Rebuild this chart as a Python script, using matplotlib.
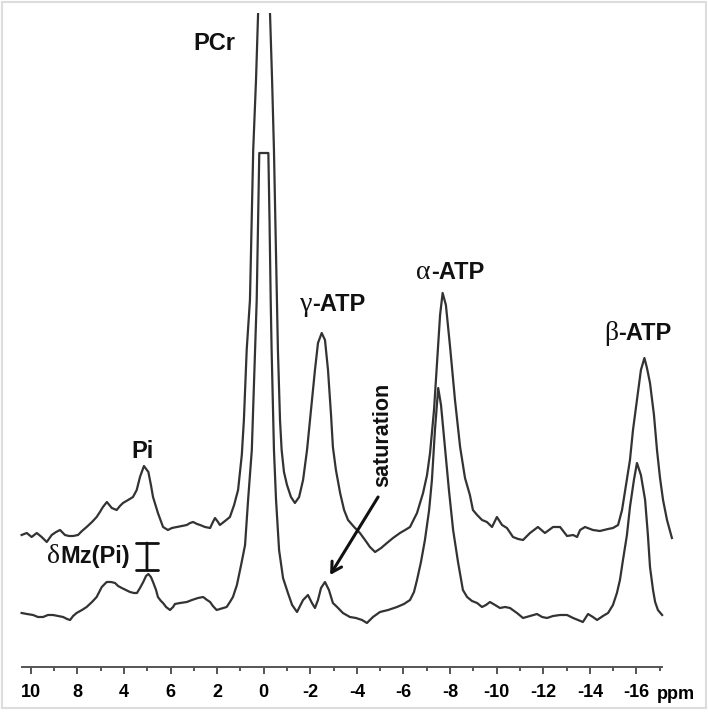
import matplotlib
matplotlib.use('Agg')
import matplotlib.pyplot as plt
from matplotlib.patches import Rectangle

plt.rcParams['font.family'] = ['Liberation Sans', 'DejaVu Sans']

# chemical shift (ppm) and signal (a.u.)
# upper trace: control spectrum (PCr peak runs off scale)
upper_ppm = [10.39, 10.17, 9.96, 9.74, 9.53, 9.31, 9.10, 8.91, 8.74, 8.53,
             8.36, 8.18, 7.97, 7.80, 7.60, 7.37, 7.17, 7.03, 6.90, 6.73,
             6.52, 6.31, 6.17, 6.04, 5.82, 5.61, 5.45, 5.31, 5.14, 4.95,
             4.84, 4.75, 4.54, 4.32, 4.11, 3.94, 3.73, 3.51, 3.30, 3.16,
             3.03, 2.86, 2.73, 2.52, 2.30, 2.18, 2.09, 1.96, 1.88, 1.66,
             1.45, 1.27, 1.10, 0.94, 0.85, 0.73, 0.59, 0.45, 0.33, 0.24,
             0.0,
             -0.27, -0.36, -0.44, -0.57, -0.61, -0.70, -0.77, -0.87, -1.00, -1.17,
             -1.34, -1.52, -1.69, -1.86, -2.03, -2.20, -2.33, -2.49, -2.63, -2.76,
             -2.89, -2.97, -3.10, -3.28, -3.45, -3.62, -3.88, -4.13, -4.35, -4.56,
             -4.78, -5.04, -5.29, -5.55, -5.85, -6.07, -6.28, -6.58, -6.84, -7.01,
             -7.14, -7.31, -7.44, -7.57, -7.68, -7.82, -8.00, -8.21, -8.43, -8.64,
             -8.85, -8.98, -9.16, -9.37, -9.58, -9.80, -10.01, -10.23, -10.44, -10.70,
             -10.92, -11.13, -11.43, -11.77, -12.07, -12.42, -12.72, -13.02, -13.28, -13.45,
             -13.58, -13.79, -14.13, -14.43, -14.78, -14.99, -15.21, -15.38, -15.55, -15.72,
             -15.85, -16.02, -16.19, -16.34, -16.45, -16.58, -16.75, -16.88, -17.01, -17.14,
             -17.31, -17.52]
upper_sig = [132, 134, 130, 134, 130, 125, 132, 135, 137, 132,
             131, 131, 132, 136, 140, 145, 150, 155, 160, 165,
             159, 157, 161, 164, 167, 170, 177, 190, 201, 195,
             182, 170, 154, 140, 137, 139, 140, 141, 142, 144,
             145, 143, 142, 140, 139, 145, 149, 145, 142, 146,
             150, 162, 177, 212, 247, 317, 367, 517, 587, 654,
             980,
             654, 587, 517, 367, 317, 247, 217, 195, 182, 170,
             164, 170, 187, 217, 257, 297, 324, 334, 327, 297,
             252, 220, 197, 174, 157, 147, 140, 134, 127, 120,
             115, 119, 124, 129, 134, 137, 140, 154, 174, 192,
             214, 257, 304, 352, 374, 362, 320, 267, 220, 189,
             172, 157, 152, 147, 145, 140, 150, 142, 139, 130,
             128, 127, 134, 140, 134, 140, 140, 131, 132, 130,
             137, 140, 137, 136, 138, 139, 142, 157, 182, 207,
             237, 267, 297, 309, 299, 284, 252, 217, 189, 167,
             147, 129]

# lower trace: spectrum with gamma-ATP saturated (PCr peak truncated)
lower_ppm = [10.39, 10.16, 9.90, 9.69, 9.47, 9.26, 9.04, 8.83, 8.61, 8.44,
             8.31, 8.18, 8.03, 7.80, 7.60, 7.37, 7.17, 6.95, 6.74, 6.55,
             6.38, 6.25, 6.09, 5.91, 5.74, 5.57, 5.44, 5.31, 5.17, 5.05,
             4.95, 4.84, 4.75, 4.62, 4.54, 4.41, 4.32, 4.19, 4.02, 3.89,
             3.81, 3.59, 3.30, 3.08, 2.82, 2.60, 2.43, 2.30, 2.18, 2.02,
             1.88, 1.59, 1.45, 1.32, 1.15, 0.97, 0.80, 0.67, 0.51, 0.37,
             0.30, 0.24, 0.19, -0.20, -0.25, -0.30, -0.34, -0.44, -0.53, -0.66,
             -0.83, -1.04, -1.22, -1.43, -1.69, -1.90, -2.07, -2.20, -2.33, -2.46,
             -2.63, -2.80, -2.97, -3.15, -3.40, -3.70, -3.96, -4.22, -4.43, -4.69,
             -4.99, -5.34, -5.72, -6.02, -6.28, -6.45, -6.58, -6.75, -6.92, -7.10,
             -7.22, -7.35, -7.49, -7.61, -7.78, -7.95, -8.13, -8.34, -8.55, -8.73,
             -8.94, -9.16, -9.37, -9.54, -9.71, -9.93, -10.14, -10.36, -10.57, -10.87,
             -11.13, -11.43, -11.73, -11.95, -12.16, -12.42, -12.72, -13.02, -13.28, -13.49,
             -13.70, -13.92, -14.13, -14.31, -14.56, -14.78, -14.99, -15.16, -15.29, -15.42,
             -15.59, -15.72, -15.89, -16.02, -16.19, -16.37, -16.49, -16.58, -16.71, -16.80,
             -16.92, -17.10]
lower_sig = [54, 53, 52, 50, 50, 52, 52, 51, 50, 48,
             47, 51, 54, 57, 60, 65, 70, 80, 85, 85,
             84, 81, 79, 77, 75, 74, 74, 79, 85, 91,
             93, 90, 85, 77, 70, 66, 64, 60, 57, 60,
             63, 64, 65, 67, 69, 70, 67, 65, 61, 57,
             58, 60, 65, 70, 82, 102, 122, 167, 217, 317,
             367, 447, 514, 514, 447, 367, 317, 217, 167, 117,
             89, 74, 62, 55, 67, 72, 64, 59, 67, 79,
             85, 77, 64, 60, 54, 50, 49, 47, 44, 50,
             55, 57, 60, 63, 67, 75, 87, 105, 127, 157,
             187, 237, 279, 262, 220, 177, 137, 105, 77, 70,
             66, 64, 60, 62, 65, 62, 59, 60, 59, 54,
             49, 51, 53, 50, 49, 51, 52, 52, 49, 47,
             45, 53, 50, 47, 51, 54, 62, 74, 87, 107,
             132, 160, 187, 204, 192, 167, 132, 100, 77, 65,
             57, 52]

tick_pos = [10, 8, 6, 4, 2, 0, -2, -4, -6, -8, -10, -12, -14, -16]
tick_labels = ['10', '8', '4', '6', '2', '0', '-2', '-4', '-6', '-8',
               '-10', '-12', '-14', '-16']
minor_pos = [9, 7, 5, 3, 1, -1, -3, -5, -7, -9, -11, -13, -15, -17]

fig = plt.figure(figsize=(7.08, 7.13), dpi=100)
ax = fig.add_axes([0.02119, 0.06452, 0.96751, 0.91725])

trace_color = '#333333'
ax.plot(upper_ppm, upper_sig, color=trace_color, lw=1.6)
ax.plot(lower_ppm, lower_sig, color=trace_color, lw=1.6)

ax.set_xlim(10.674, -18.726)
ax.set_ylim(0, 654)

for side in ['top', 'right', 'left']:
    ax.spines[side].set_visible(False)
ax.spines['bottom'].set_bounds(10.39, -17.1)
ax.spines['bottom'].set_color('#555555')
ax.spines['bottom'].set_linewidth(1.4)
ax.set_yticks([])
ax.set_xticks(tick_pos)
ax.set_xticklabels(tick_labels, fontsize=13, fontweight='bold')
ax.set_xticks(minor_pos, minor=True)
ax.tick_params(axis='x', which='major', length=5, width=1.4,
               color='#555555', pad=7)
ax.tick_params(axis='x', which='minor', length=3, width=1.4,
               color='#555555')
ax.text(-17.70, -28, 'ppm', fontsize=13, fontweight='bold',
        ha='center', va='center', clip_on=False)

lab = dict(fontsize=17, fontweight='bold', ha='center', va='center',
           color='#111111')
ax.text(2.13, 623, 'PCr', **lab)
ax.text(5.22, 215, 'Pi', **lab)

# peak names with a Greek prefix: serif Greek letter, bold sans rest
greek = dict(fontsize=20, family='Liberation Serif', ha='right',
             va='baseline', color='#111111')
rest = dict(fontsize=17, fontweight='bold', ha='left', va='baseline',
            color='#111111')
for g, word, x, y in [('γ', '-ATP', -2.07, 356), ('α', '-ATP', -7.18, 388),
                      ('β', '-ATP', -15.21, 327), ('δ', 'Mz(Pi)', 8.74, 104)]:
    ax.text(x, y, g, **greek)
    ax.text(x, y, word, **rest)

ax.text(-5.12, 232, 'saturation', fontsize=15.5, fontweight='bold',
        rotation=90, ha='center', va='center', color='#111111')

# bar marking the Pi magnetisation drop
ax.annotate('', xy=(5.01, 97), xytext=(5.01, 124),
            arrowprops=dict(arrowstyle='|-|, widthA=0.8, widthB=0.8',
                            lw=2, color='#111111', shrinkA=0, shrinkB=0))
# saturation arrow
ax.annotate('', xy=(-2.85, 92), xytext=(-4.91, 170),
            arrowprops=dict(arrowstyle='->, head_length=0.7, head_width=0.4',
                            lw=2.2, color='#111111', shrinkA=0, shrinkB=0))

fig.patches.append(Rectangle((0.003, 0.007), 0.994, 0.99, fill=False,
                             edgecolor='#dddddd', lw=1.5,
                             transform=fig.transFigure))

fig.savefig('out.png', dpi=100)
